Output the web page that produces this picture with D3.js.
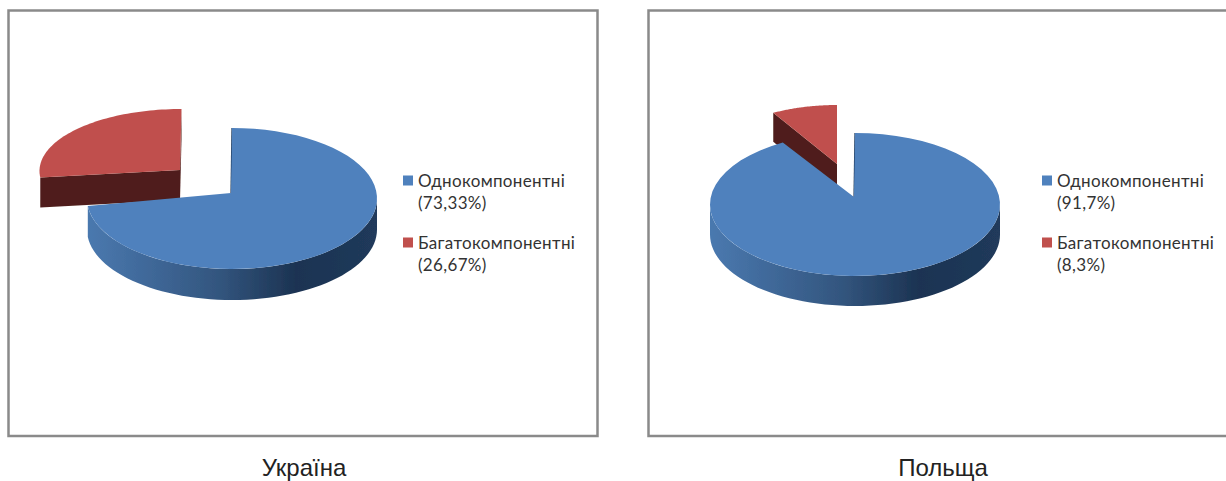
<!DOCTYPE html>
<html>
<head>
<meta charset="utf-8">
<script src="https://cdn.jsdelivr.net/npm/d3@7"></script>
<style>
  html, body { margin: 0; padding: 0; background: #fff; overflow: hidden; }
  .legend text { font-family: Lato, sans-serif; font-size: 17px; letter-spacing: 0.33px; fill: #333; }
  .caption { font-family: "Liberation Sans", sans-serif; font-size: 24px; fill: #222; text-anchor: middle; }
</style>
</head>
<body>
<svg id="chart" width="1226" height="481"></svg>
<script>
const categories = ['Однокомпонентні', 'Багатокомпонентні']
const countries = ['Україна', 'Польща']
const ukraineShares = [73.33, 26.67]
const polandShares = [91.7, 8.3]
const ukraineLabels = ['(73,33%)', '(26,67%)']
const polandLabels = ['(91,7%)', '(8,3%)']

const colors = d3.scaleOrdinal().domain(categories).range(['#4f81bd', '#c0504d'])
const redSide = '#4f1f1a'
const blueSideDark = '#1d3553'

const svg = d3.select('#chart')
const defs = svg.append('defs')

// the source is a slightly soft screenshot
defs.append('filter').attr('id', 'soft')
    .append('feGaussianBlur').attr('stdDeviation', 0.45)

const pie = d3.pie().sort(null)

// point on the tilted ellipse, angle clockwise from 12 o'clock
const onEllipse = (g, a, dy = 0) => [g.cx + g.rx * Math.sin(a), g.cy - g.ry * Math.cos(a) + dy]

function arcPoints(g, a0, a1, dy = 0) {
    return d3.range(0, 61).map(i => onEllipse(g, a0 + (a1 - a0) * i / 60, dy))
}

const line = d3.line()

function drawPanel(p) {
    const root = svg.append('g')

    root.append('rect')
        .attr('x', p.frame.x).attr('y', p.frame.y)
        .attr('width', p.frame.w).attr('height', p.frame.h)
        .attr('fill', '#fff')
        .attr('stroke', '#8a8a8a')
        .attr('stroke-width', 2.5)

    const [blue, red] = pie(p.values)
    const b = p.blue, r = p.red

    const gradId = 'side-' + p.id
    const grad = defs.append('linearGradient')
        .attr('id', gradId)
        .attr('gradientUnits', 'userSpaceOnUse')
        .attr('x1', b.cx - b.rx).attr('x2', b.cx + b.rx)
        .attr('y1', 0).attr('y2', 0)
    grad.selectAll('stop')
        .data([[0, '#4a79af'], [0.2, '#40699a'], [0.45, '#33567f'], [0.72, '#1c3352'], [1, '#203a5b']])
        .join('stop')
        .attr('offset', d => d[0])
        .attr('stop-color', d => d[1])

    const slices = root.append('g').attr('filter', 'url(#soft)')

    // red slice: cut face, then the top
    const redA = onEllipse(r, red.startAngle)
    const redB = onEllipse(r, red.endAngle)
    slices.append('path')
        .attr('d', line([[r.ax, r.ay], redA, [redA[0], redA[1] + r.depth], [r.ax, r.ay + r.depth]]) + 'Z')
        .attr('fill', redSide)
    slices.append('path')
        .attr('d', line([[r.ax, r.ay], redB, [redB[0], redB[1] + r.depth], [r.ax, r.ay + r.depth]]) + 'Z')
        .attr('fill', redSide)
    slices.append('path')
        .attr('d', line([[r.ax, r.ay], ...arcPoints(r, red.startAngle, red.endAngle)]) + 'Z')
        .attr('fill', colors(categories[1]))

    // blue slice: rim, thin cut edge, then the top
    const rimEnd = Math.min(blue.endAngle, Math.PI * 1.5)
    const front = arcPoints(b, Math.PI / 2, rimEnd)
    const back = arcPoints(b, rimEnd, Math.PI / 2, b.depth)
    slices.append('path')
        .attr('d', line([...front, ...back]) + 'Z')
        .attr('fill', `url(#${gradId})`)
    slices.append('path')
        .attr('d', line([[b.ax, b.ay], onEllipse(b, 0)]))
        .attr('stroke', blueSideDark)
        .attr('stroke-width', 1.2)
        .attr('fill', 'none')
    slices.append('path')
        .attr('d', line([[b.ax, b.ay], ...arcPoints(b, blue.startAngle, blue.endAngle)]) + 'Z')
        .attr('fill', colors(categories[0]))

    // legend
    const legend = root.append('g').attr('class', 'legend')
        .selectAll('g')
        .data(categories)
        .join('g')
        .attr('transform', (d, i) => `translate(${p.legendX},${181 + i * 62})`)
    legend.append('rect')
        .attr('x', 0).attr('y', -5.5)
        .attr('width', 10).attr('height', 10)
        .attr('fill', d => colors(d))
    legend.append('text')
        .attr('x', 15).attr('y', 5.5)
        .text(d => d)
    legend.append('text')
        .attr('x', 15).attr('y', 27.5)
        .text((d, i) => p.labels[i])

    svg.append('text')
        .attr('class', 'caption')
        .attr('x', p.captionX).attr('y', 475.5)
        .text(p.caption)
}

drawPanel({
    id: 'ua', values: ukraineShares, labels: ukraineLabels, caption: countries[0],
    frame: { x: 8.5, y: 10.5, w: 589, h: 425.5 },
    blue: { cx: 232, cy: 198.5, rx: 145, ry: 70.5, ax: 231, ay: 193, depth: 31 },
    red: { cx: 181.5, cy: 171, rx: 142, ry: 62, ax: 180, ay: 170, depth: 30 },
    legendX: 403, captionX: 304
})

drawPanel({
    id: 'pl', values: polandShares, labels: polandLabels, caption: countries[1],
    frame: { x: 648.5, y: 10.5, w: 600, h: 425.5 },
    blue: { cx: 855, cy: 204.5, rx: 145, ry: 71.5, ax: 854, ay: 197, depth: 30 },
    red: { cx: 837, cy: 164, rx: 128, ry: 59, ax: 837, ay: 164, depth: 29 },
    legendX: 1042, captionX: 943
})
</script>
</body>
</html>
